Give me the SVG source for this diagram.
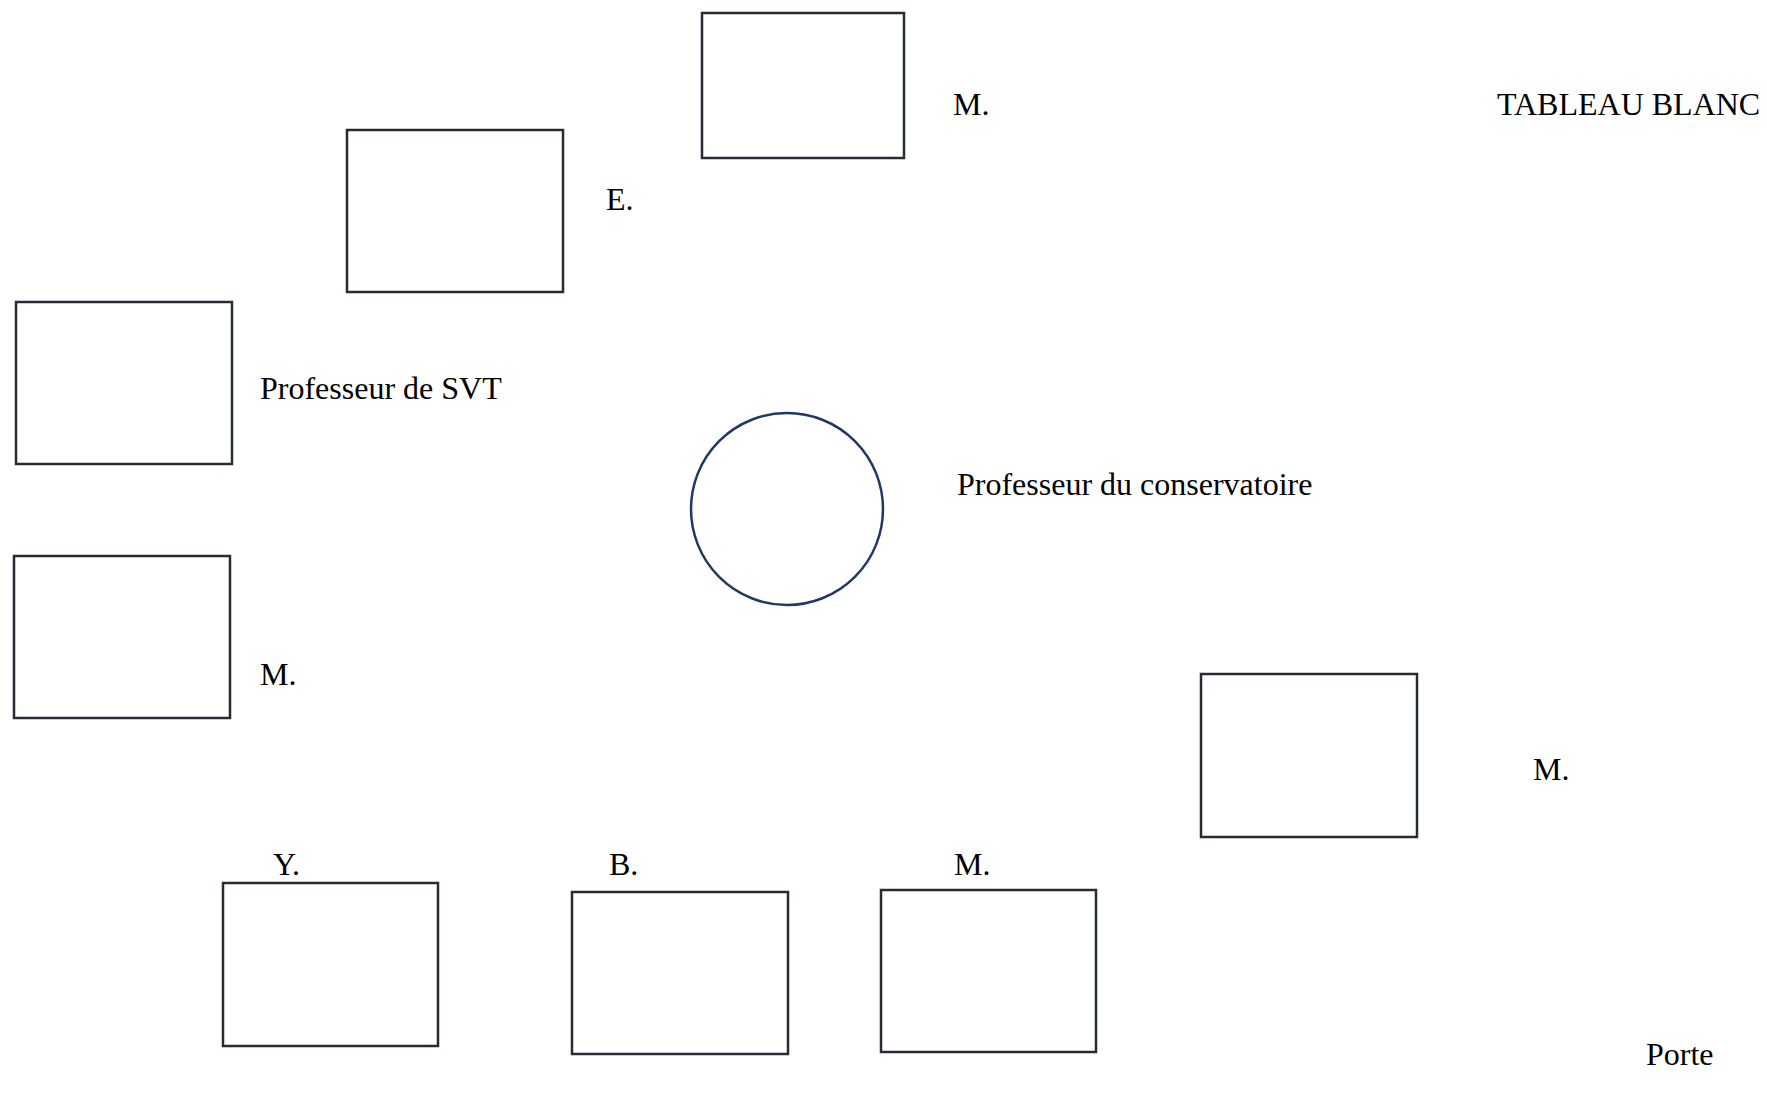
<svg xmlns="http://www.w3.org/2000/svg" width="1767" height="1111" viewBox="0 0 1767 1111">
<style>
.box{fill:#ffffff;stroke:#262c35;stroke-width:2.5}
.circ{fill:#ffffff;stroke:#1f3864;stroke-width:2.5}
.lbl{font-family:"Liberation Serif","Times New Roman",serif;font-size:32px;fill:#000000}
</style>
<rect width="1767" height="1111" fill="#ffffff"/>
<g id="desk-m-top"><rect class="box" x="702" y="13" width="202" height="145"/><text class="lbl" x="953" y="115">M.</text></g>
<g id="desk-e"><rect class="box" x="347" y="130" width="216" height="162"/><text class="lbl" x="606" y="210">E.</text></g>
<g id="desk-svt"><rect class="box" x="16" y="302" width="216" height="162"/><text class="lbl" x="260" y="399">Professeur de SVT</text></g>
<g id="desk-m-left"><rect class="box" x="14" y="556" width="216" height="162"/><text class="lbl" x="260" y="685">M.</text></g>
<g id="conservatoire"><circle class="circ" cx="787" cy="509" r="96"/><text class="lbl" x="957" y="495">Professeur du conservatoire</text></g>
<g id="desk-m-right"><rect class="box" x="1201" y="674" width="216" height="163"/><text class="lbl" x="1533" y="780">M.</text></g>
<g id="desk-y"><rect class="box" x="223" y="883" width="215" height="163"/><text class="lbl" x="273" y="875">Y.</text></g>
<g id="desk-b"><rect class="box" x="572" y="892" width="216" height="162"/><text class="lbl" x="609" y="875">B.</text></g>
<g id="desk-m-bottom"><rect class="box" x="881" y="890" width="215" height="162"/><text class="lbl" x="954" y="875">M.</text></g>
<g id="tableau"><text class="lbl" x="1497" y="115">TABLEAU BLANC</text></g>
<g id="porte"><text class="lbl" x="1646" y="1065">Porte</text></g>
<g id="connectors"></g>
</svg>
